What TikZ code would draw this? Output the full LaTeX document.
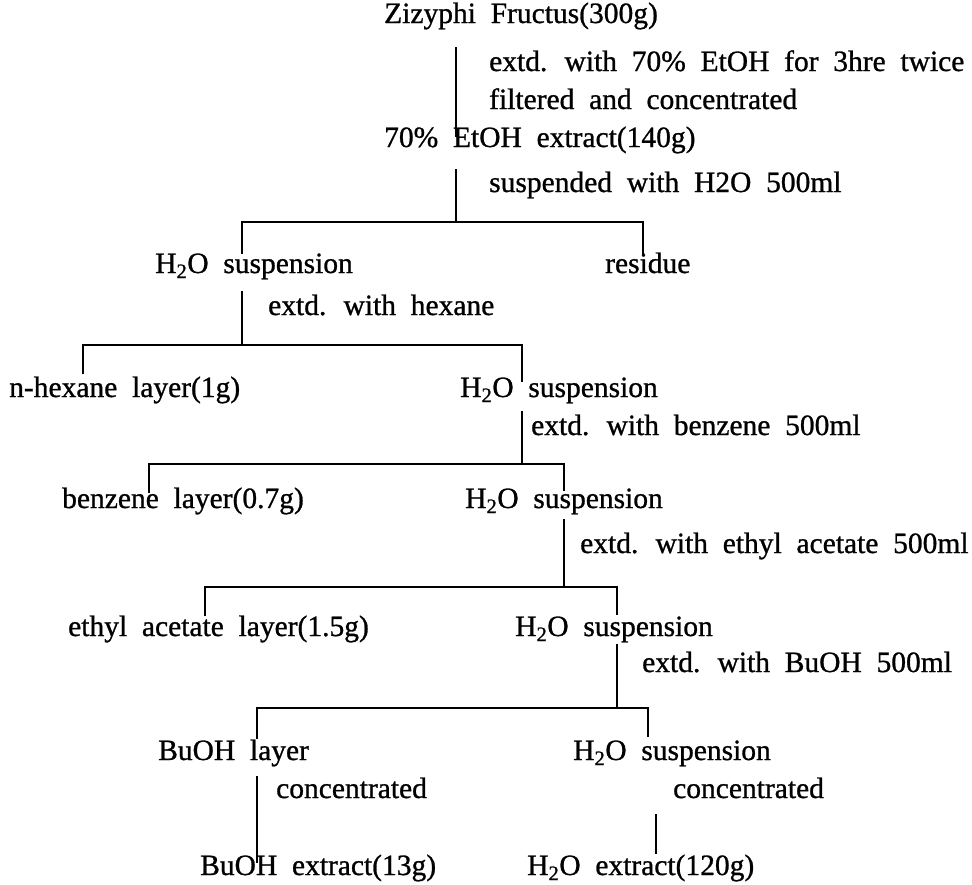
\documentclass[tikz,border=0pt]{standalone}
\usepackage{fontspec}
\setmainfont[WordSpace=2.0,FakeBold=0.9]{Liberation Serif}
\newcommand{\labfont}{\fontsize{29.5}{33}\selectfont}
\newcommand{\water}{H\textsubscript{2}O}
\begin{document}
\begin{tikzpicture}[x=1pt,y=-1pt,
  txt/.style={anchor=base west, inner sep=0pt, font=\labfont},
  link/.style={line width=1.7pt, line cap=rect}]
\useasboundingbox (0,0) rectangle (972,884);
% texts
\node[txt] (zf)  at (384,23)  {Zizyphi Fructus(300g)};
\node[txt] (c1)  at (489,71)  {extd. with 70\% EtOH for 3hre twice};
\node[txt] (c2)  at (489,109) {filtered and concentrated};
\node[txt] (eth) at (384,147) {70\% EtOH extract(140g)};
\node[txt] (c3)  at (489,192) {suspended with H2O 500ml};
\node[txt] (w1)  at (155,273) {\water{} suspension};
\node[txt] (res) at (605,273) {residue};
\node[txt] (c4)  at (268,315) {extd. with hexane};
\node[txt] (hex) at (9,397)   {n-hexane layer(1g)};
\node[txt] (w2)  at (460,397) {\water{} suspension};
\node[txt] (c5)  at (531,435) {extd. with benzene 500ml};
\node[txt] (ben) at (62,508)  {benzene layer(0.7g)};
\node[txt] (w3)  at (465,508) {\water{} suspension};
\node[txt] (c6)  at (580,553) {extd. with ethyl acetate 500ml};
\node[txt] (ea)  at (68,636)  {ethyl acetate layer(1.5g)};
\node[txt] (w4)  at (515,636) {\water{} suspension};
\node[txt] (c7)  at (642,672) {extd. with BuOH 500ml};
\node[txt] (bu)  at (158,760) {BuOH layer};
\node[txt] (w5)  at (573,760) {\water{} suspension};
\node[txt] (c8)  at (276,798) {concentrated};
\node[txt] (c9)  at (673,798) {concentrated};
\node[txt] (bue) at (200,875) {BuOH extract(13g)};
\node[txt] (we)  at (527,875) {\water{} extract(120g)};
% junction coordinates
\coordinate (a1) at (456,48);  \coordinate (a2) at (456,136);
\coordinate (a3) at (456,170); \coordinate (j1) at (456,222);
\coordinate (l1) at (242,253); \coordinate (r1) at (643,253);
\coordinate (b1) at (242,292); \coordinate (j2) at (242,345);
\coordinate (l2) at (83,373);  \coordinate (r2) at (522,381);
\coordinate (b2) at (522,412); \coordinate (j3) at (522,464);
\coordinate (l3) at (149,492); \coordinate (r3) at (564,490);
\coordinate (b3) at (564,520); \coordinate (j4) at (564,587);
\coordinate (l4) at (205,615); \coordinate (r4) at (617,614);
\coordinate (b4) at (617,645); \coordinate (j5) at (617,708);
\coordinate (l5) at (257,738); \coordinate (r5) at (648,736);
\coordinate (b5) at (257,777); \coordinate (e5) at (257,862);
\coordinate (b6) at (656,815); \coordinate (e6) at (656,853);
% connectors
\draw[link] (a1) -- (a2);
\draw[link] (a3) -- (j1);
\draw[link] (l1) |- (j1) -| (r1);
\draw[link] (b1) -- (j2);
\draw[link] (l2) |- (j2) -| (r2);
\draw[link] (b2) -- (j3);
\draw[link] (l3) |- (j3) -| (r3);
\draw[link] (b3) -- (j4);
\draw[link] (l4) |- (j4) -| (r4);
\draw[link] (b4) -- (j5);
\draw[link] (l5) |- (j5) -| (r5);
\draw[link] (b5) -- (e5);
\draw[link] (b6) -- (e6);
\end{tikzpicture}
\end{document}
